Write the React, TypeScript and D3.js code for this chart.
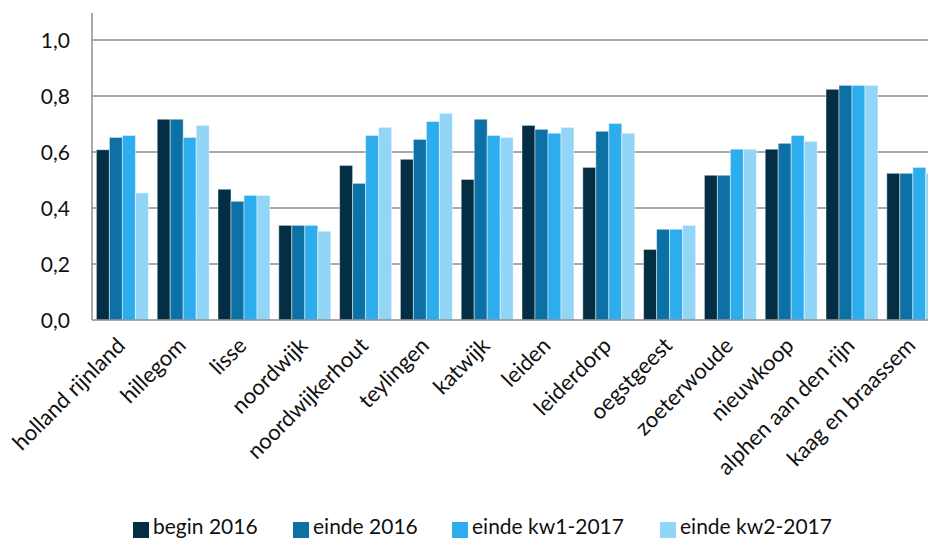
import { scaleBand, scaleLinear } from "d3";

const categories = [
  "holland rijnland",
  "hillegom",
  "lisse",
  "noordwijk",
  "noordwijkerhout",
  "teylingen",
  "katwijk",
  "leiden",
  "leiderdorp",
  "oegstgeest",
  "zoeterwoude",
  "nieuwkoop",
  "alphen aan den rijn",
  "kaag en braassem",
];

const seriesNames = ["begin 2016", "einde 2016", "einde kw1-2017", "einde kw2-2017"];
const seriesColors = ["#042e44", "#0d71a6", "#2eadee", "#93d5f6"];

const begin2016 = [0.608, 0.717, 0.467, 0.338, 0.552, 0.574, 0.502, 0.695, 0.545, 0.252, 0.517, 0.61, 0.824, 0.524];
const einde2016 = [0.652, 0.717, 0.424, 0.338, 0.488, 0.645, 0.717, 0.681, 0.674, 0.324, 0.517, 0.631, 0.838, 0.524];
const eindeKw1 = [0.659, 0.652, 0.445, 0.338, 0.659, 0.709, 0.659, 0.667, 0.702, 0.324, 0.61, 0.659, 0.838, 0.545];
const eindeKw2 = [0.454, 0.695, 0.445, 0.317, 0.688, 0.738, 0.652, 0.688, 0.667, 0.338, 0.61, 0.638, 0.838, 0.524];

const seriesValues = [begin2016, einde2016, eindeKw1, eindeKw2];
const yTicks = [0, 0.2, 0.4, 0.6, 0.8, 1.0];

const width = 928;
const height = 538;
const font = "Lato, 'Open Sans', sans-serif";

export default function App() {
  const left = 92;
  const bottom = 320;
  const top = 12;
  const step = 60.8;
  const inset = 4.4;

  const y = scaleLinear().domain([0, 1.1]).range([bottom, top]);
  const x0 = scaleBand<string>()
    .domain(categories)
    .range([left, left + step * categories.length]);
  const x1 = scaleBand<string>()
    .domain(seriesNames)
    .range([inset, x0.bandwidth() - inset]);

  const legendX = [133, 293, 452, 660];

  return (
    <svg
      width={width}
      height={height}
      style={{ position: "absolute", left: 0, top: 0, background: "#fff" }}
      fontFamily={font}
    >
      {yTicks.map((t) => (
        <g key={t}>
          {t > 0 && (
            <line x1={left} x2={width} y1={y(t)} y2={y(t)} stroke="#8c8c8c" strokeWidth={1.5} />
          )}
          <text x={70} y={y(t)} dy="0.36em" textAnchor="end" fontSize={21} fill="#111">
            {t.toFixed(1).replace(".", ",")}
          </text>
        </g>
      ))}

      {categories.map((cat, ci) => (
        <g key={cat} transform={`translate(${x0(cat)},0)`}>
          {seriesNames.map((s, si) => {
            const v = seriesValues[si][ci];
            return (
              <rect
                key={s}
                x={x1(s)}
                y={y(v)}
                width={x1.bandwidth()}
                height={bottom - y(v)}
                fill={seriesColors[si]}
                stroke="rgba(255,255,255,0.45)"
                strokeWidth={1}
              />
            );
          })}
        </g>
      ))}

      <line x1={left} x2={left} y1={top + 1} y2={bottom} stroke="#8c8c8c" strokeWidth={1.5} />
      <line x1={left} x2={width} y1={bottom} y2={bottom} stroke="#8c8c8c" strokeWidth={1.5} />

      {categories.map((cat) => {
        const cx = (x0(cat) ?? 0) + x0.bandwidth() / 2 + 4;
        return (
          <text
            key={cat}
            transform={`translate(${cx},${bottom + 27}) rotate(-45)`}
            textAnchor="end"
            fontSize={22}
            fill="#111"
          >
            {cat}
          </text>
        );
      })}

      {seriesNames.map((s, i) => (
        <g key={s}>
          <rect x={legendX[i]} y={522} width={16} height={16} fill={seriesColors[i]} />
          <text x={legendX[i] + 20} y={534} fontSize={21} fill="#111">
            {s}
          </text>
        </g>
      ))}
    </svg>
  );
}
